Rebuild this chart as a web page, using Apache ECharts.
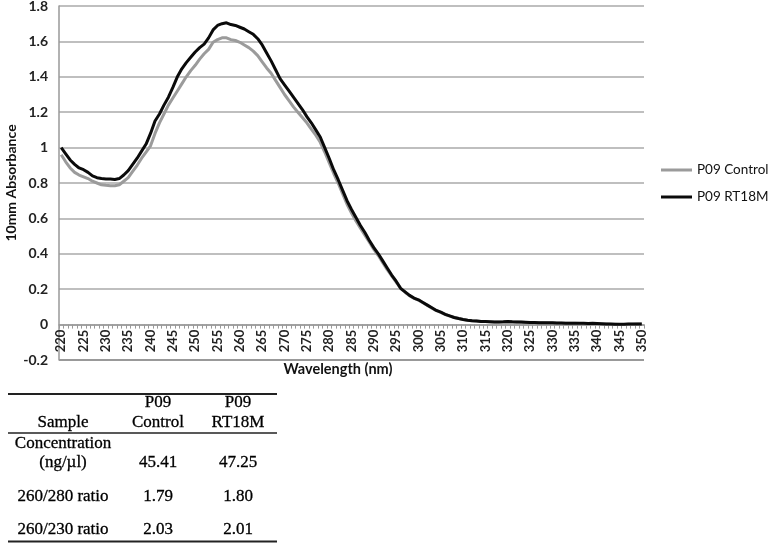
<!DOCTYPE html>
<html>
<head>
<meta charset="utf-8">
<script src="https://cdn.jsdelivr.net/npm/echarts@6/dist/echarts.min.js"></script>
<style>
html,body{margin:0;padding:0;background:#fff;}
#chart{width:771px;height:543px;}
</style>
</head>
<body>
<div id="chart"></div>
<script>
// ---- data ----
const wavelengths = [220,221,222,223,224,225,226,227,228,229,230,231,232,233,234,235,236,237,238,239,
240,241,242,243,244,245,246,247,248,249,250,251,252,253,254,255,256,257,258,259,
260,261,262,263,264,265,266,267,268,269,270,271,272,273,274,275,276,277,278,279,
280,281,282,283,284,285,286,287,288,289,290,291,292,293,294,295,296,297,298,299,
300,301,302,303,304,305,306,307,308,309,310,311,312,313,314,315,316,317,318,319,
320,321,322,323,324,325,326,327,328,329,330,331,332,333,334,335,336,337,338,339,
340,341,342,343,344,345,346,347,348,349,350];

const controlValues = [0.96,0.92,0.885,0.86,0.845,0.835,0.825,0.81,0.80,0.79,0.787,0.785,0.785,0.79,0.81,0.83,0.865,0.90,0.94,0.975,
1.01,1.08,1.14,1.19,1.24,1.28,1.32,1.36,1.40,1.435,1.465,1.50,1.53,1.555,1.595,1.61,1.62,1.62,1.61,1.605,
1.595,1.58,1.565,1.545,1.52,1.485,1.45,1.42,1.38,1.34,1.30,1.265,1.23,1.20,1.17,1.14,1.105,1.07,1.03,0.975,
0.915,0.855,0.80,0.74,0.68,0.63,0.585,0.545,0.505,0.465,0.425,0.39,0.35,0.31,0.275,0.24,0.205,0.183,0.163,0.148,
0.138,0.123,0.108,0.093,0.079,0.069,0.057,0.048,0.040,0.034,0.029,0.025,0.022,0.020,0.018,0.017,0.016,0.015,0.015,0.015,
0.016,0.015,0.014,0.013,0.012,0.011,0.011,0.010,0.010,0.009,0.009,0.008,0.008,0.007,0.007,0.007,0.006,0.006,0.005,0.006,
0.005,0.004,0.003,0.002,0.002,0.001,0.001,0.002,0.002,0.003,0.003];

const rt18mValues = [1.00,0.965,0.93,0.905,0.885,0.875,0.86,0.84,0.83,0.825,0.822,0.822,0.82,0.825,0.845,0.87,0.905,0.94,0.98,1.02,
1.08,1.15,1.19,1.24,1.285,1.34,1.40,1.445,1.48,1.51,1.54,1.565,1.585,1.62,1.665,1.69,1.70,1.705,1.695,1.69,
1.68,1.67,1.655,1.64,1.615,1.58,1.535,1.49,1.44,1.39,1.355,1.32,1.285,1.25,1.215,1.175,1.14,1.10,1.06,1.00,
0.94,0.875,0.82,0.76,0.70,0.65,0.605,0.56,0.52,0.475,0.435,0.40,0.36,0.32,0.28,0.245,0.205,0.185,0.165,0.15,
0.14,0.125,0.11,0.095,0.08,0.07,0.058,0.049,0.04,0.034,0.029,0.025,0.022,0.02,0.018,0.017,0.016,0.015,0.015,0.016,
0.018,0.016,0.015,0.014,0.013,0.012,0.012,0.011,0.011,0.010,0.010,0.009,0.009,0.008,0.008,0.008,0.007,0.007,0.006,0.007,
0.006,0.005,0.004,0.003,0.002,0.002,0.002,0.003,0.003,0.004,0.004];

const seriesNames = ['P09 Control', 'P09 RT18M'];
const xAxisTitle = 'Wavelength (nm)';
const yAxisTitle = '10mm Absorbance';

const tableHeader = ['Sample', 'P09\nControl', 'P09\nRT18M'];
const tableRows = [
  ['Concentration\n(ng/µl)', '45.41', '47.25'],
  ['260/280 ratio', '1.79', '1.80'],
  ['260/230 ratio', '2.03', '2.01']
];

// ---- layout constants ----
const gridLeft = 59, gridRight = 127, gridTop = 6, gridBottom = 183;
const yMin = -0.2, yMax = 1.8;
const plotH = 543 - gridTop - gridBottom;
const zeroOffset = -plotH * (0 - yMin) / (yMax - yMin); // move x axis up to y = 0

// ---- table graphic ----
const colX = [63, 158, 238];
const headerBaseY = 423;
const rowBaseY = [463, 497, 530];
const tableFont = '17px "Liberation Serif", "Times New Roman", serif';
const graphics = [];
function addCell(text, x, baseY, step) {
  const lines = text.split('\n');
  lines.forEach((ln, i) => {
    graphics.push({
      type: 'text',
      x: x,
      y: baseY - step * (lines.length - 1 - i),
      style: { text: ln, font: tableFont, fill: '#000', align: 'center', verticalAlign: 'middle',
               stroke: '#000', lineWidth: 0.3 }
    });
  });
}
tableHeader.forEach((h, c) => addCell(h, colX[c], headerBaseY, 20));
tableRows.forEach((row, r) => row.forEach((cell, c) => addCell(cell, colX[c], rowBaseY[r], 19)));
[[394, 2], [433, 1.5], [541.5, 2]].forEach(([y, w]) => {
  graphics.push({ type: 'line', shape: { x1: 8, y1: y, x2: 277, y2: y }, style: { stroke: '#222', lineWidth: w } });
});
graphics.push({
  type: 'text', x: 338, y: 369,
  style: { text: xAxisTitle, font: 'bold 14.5px Lato, "Open Sans", sans-serif', fill: '#111', align: 'center', verticalAlign: 'middle' }
});

const chart = echarts.init(document.getElementById('chart'), null, { renderer: 'canvas' });
chart.setOption({
  animation: false,
  backgroundColor: '#fff',
  grid: { left: gridLeft, right: gridRight, top: gridTop, bottom: gridBottom, containLabel: false, outerBoundsMode: 'none' },
  legend: {
    orient: 'vertical',
    left: 661, top: 162,
    padding: 0,
    icon: 'rect', itemWidth: 31, itemHeight: 3,
    itemGap: 11,
    textStyle: { fontFamily: 'Lato, "Open Sans", sans-serif', fontSize: 13.5, color: '#111', lineHeight: 16 },
    data: seriesNames
  },
  xAxis: {
    type: 'category',
    data: wavelengths,
    boundaryGap: true,
    offset: zeroOffset,
    axisLine: { onZero: false, lineStyle: { color: '#999', width: 1.5 } },
    axisTick: { show: true, interval: 0, length: 4, lineStyle: { color: '#999' } },
    axisLabel: {
      interval: 4, rotate: 90, margin: 5,
      fontFamily: 'Lato, "Open Sans", sans-serif', fontWeight: 'bold', fontSize: 13, color: '#222'
    },
    splitLine: { show: false }
  },
  yAxis: {
    type: 'value',
    min: yMin, max: yMax, interval: 0.2,
    name: yAxisTitle,
    nameLocation: 'middle',
    nameGap: 41,
    nameMoveOverlap: false,
    nameTextStyle: { fontFamily: 'Lato, "Open Sans", sans-serif', fontWeight: 'bold', fontSize: 14, color: '#111' },
    axisLine: { show: true, onZero: false, lineStyle: { color: '#999', width: 1.5 } },
    axisTick: { show: false },
    axisLabel: {
      margin: 11,
      fontFamily: 'Lato, "Open Sans", sans-serif', fontWeight: 'bold', fontSize: 14, color: '#222',
      formatter: v => String(Math.round(v * 10) / 10)
    },
    splitLine: { show: true, showMinLine: true, showMaxLine: true, lineStyle: { color: '#aaa', width: 1.5 } }
  },
  series: [
    {
      name: seriesNames[0], type: 'line', data: controlValues,
      symbol: 'none', smooth: false,
      lineStyle: { color: '#9b9b9b', width: 3 }, itemStyle: { color: '#9b9b9b' },
      markLine: {
        silent: true, symbol: 'none', label: { show: false }, clip: false, z: 10,
        lineStyle: { color: '#999', width: 2, type: 'solid' },
        emphasis: { disabled: true },
        data: [{ yAxis: yMin }]
      }
    },
    {
      name: seriesNames[1], type: 'line', data: rt18mValues,
      symbol: 'none', smooth: false,
      lineStyle: { color: '#0a0a0a', width: 3 }, itemStyle: { color: '#0a0a0a' }
    }
  ],
  graphic: graphics
});
</script>
</body>
</html>
